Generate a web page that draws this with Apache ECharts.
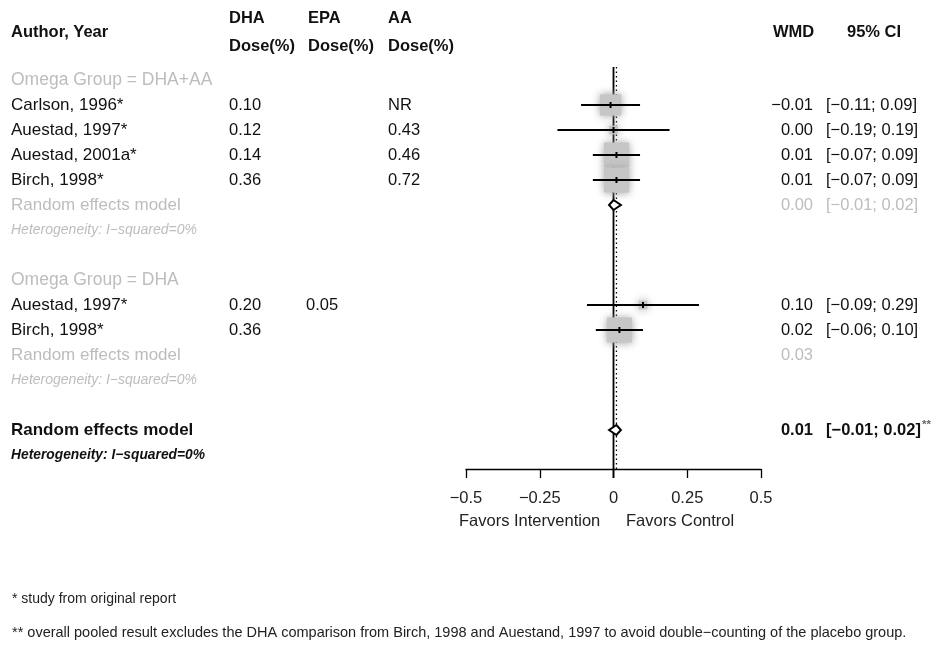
<!DOCTYPE html>
<html>
<head>
<meta charset="utf-8">
<script src="https://cdn.jsdelivr.net/npm/echarts@6/dist/echarts.min.js"></script>
<style>
  html, body { margin: 0; padding: 0; background: #fff; }
  #chart { width: 940px; height: 650px; }
</style>
</head>
<body>
<div id="chart"></div>
<script>
// ---- Study data (weighted mean difference, WMD) ----
const subgroupNames = ['DHA+AA', 'DHA'];
const studyGroup   = [0, 0, 0, 0, 1, 1];
const studyNames   = ['Carlson, 1996*', 'Auestad, 1997*', 'Auestad, 2001a*', 'Birch, 1998*', 'Auestad, 1997*', 'Birch, 1998*'];
const dhaDose      = ['0.10', '0.12', '0.14', '0.36', '0.20', '0.36'];
const epaDose      = ['', '', '', '', '0.05', ''];
const aaDose       = ['NR', '0.43', '0.46', '0.72', '', ''];
const wmd          = [-0.01, 0.00, 0.01, 0.01, 0.10, 0.02];
const ciLower      = [-0.11, -0.19, -0.07, -0.07, -0.09, -0.06];
const ciUpper      = [0.09, 0.19, 0.09, 0.09, 0.29, 0.10];
const studyWeight  = [18, 3, 25, 25, 3, 25];

// subgroup random effects estimates
const subgroupWmd   = [0.00, 0.03];
const subgroupLower = [-0.01, null];
const subgroupUpper = [0.02, null];
const subgroupHet   = ['Heterogeneity: I\u2212squared=0%', 'Heterogeneity: I\u2212squared=0%'];

// overall pooled estimate
const pooledWmd   = [0.01];
const pooledLower = [-0.01];
const pooledUpper = [0.02];
const pooledHet   = ['Heterogeneity: I\u2212squared=0%'];

const xTicks = [-0.5, -0.25, 0, 0.25, 0.5];

// ---- Row layout ----
const FONT = '"Liberation Sans", Arial, Helvetica, sans-serif';
const GREY = '#bdbdbd';
const BODY = '16.5px ' + FONT;
const NAME = '17px ' + FONT;
const fmt = v => (v < 0 ? '\u2212' : '') + Math.abs(v).toFixed(2);
const fmtCI = (lo, hi) => '[' + fmt(lo) + '; ' + fmt(hi) + ']';

// text width helper for placing the superscript mark
const measureCtx = document.createElement('canvas').getContext('2d');
const textWidth = (text, font) => { measureCtx.font = font; return measureCtx.measureText(text).width; };

const textRows = [];      // {row, cells:[{x, text, align, font, fill}]}
const studyRows = [];     // [wmd, row, lower, upper, weight]
const diamondRows = [];   // [wmd, row, lower, upper]
let row = 0;
subgroupNames.forEach((g, gi) => {
  textRows.push({ row: row, cells: [{ x: 11, text: 'Omega Group = ' + g, font: '17.5px ' + FONT, fill: GREY }] });
  row++;
  studyNames.forEach((name, i) => {
    if (studyGroup[i] !== gi) return;
    textRows.push({ row: row, cells: [
      { x: 11, text: name, font: NAME },
      { x: 229, text: dhaDose[i] },
      { x: 306, text: epaDose[i] },
      { x: 388, text: aaDose[i] },
      { x: 813, text: fmt(wmd[i]), align: 'right' },
      { x: 826, text: fmtCI(ciLower[i], ciUpper[i]) }
    ]});
    studyRows.push([wmd[i], row, ciLower[i], ciUpper[i], studyWeight[i]]);
    row++;
  });
  const reCells = [
    { x: 11, text: 'Random effects model', font: NAME, fill: GREY },
    { x: 813, text: fmt(subgroupWmd[gi]), align: 'right', fill: GREY }
  ];
  if (subgroupLower[gi] !== null) {
    reCells.push({ x: 826, text: fmtCI(subgroupLower[gi], subgroupUpper[gi]), fill: GREY });
    diamondRows.push([subgroupWmd[gi], row, subgroupLower[gi], subgroupUpper[gi]]);
  }
  textRows.push({ row: row, cells: reCells });
  row++;
  textRows.push({ row: row, cells: [{ x: 11, text: subgroupHet[gi], font: 'italic 14px ' + FONT, fill: GREY }] });
  row += 2;
});
textRows.push({ row: row, cells: [
  { x: 11, text: 'Random effects model', font: 'bold 17px ' + FONT },
  { x: 813, text: fmt(pooledWmd[0]), align: 'right', font: 'bold 16.5px ' + FONT },
  { x: 826, text: fmtCI(pooledLower[0], pooledUpper[0]), font: 'bold 16.5px ' + FONT, sup: '**' }
]});
diamondRows.push([pooledWmd[0], row, pooledLower[0], pooledUpper[0]]);
row++;
textRows.push({ row: row, cells: [{ x: 11, text: pooledHet[0], font: 'bold italic 13.8px ' + FONT }] });
const lastRow = row;

const Y_MIN = -0.52, Y_MAX = lastRow + 0.56;

const chart = echarts.init(document.getElementById('chart'), null, { renderer: 'canvas' });

const option = {
  backgroundColor: '#ffffff',
  animation: false,
  grid: { left: 466, width: 295, top: 67, height: 402 },
  xAxis: {
    type: 'value', min: xTicks[0], max: xTicks[xTicks.length - 1], interval: xTicks[1] - xTicks[0],
    axisLine: { show: true, onZero: false, lineStyle: { color: '#000', width: 1.3 } },
    axisTick: { show: true, length: 9, lineStyle: { color: '#000', width: 1.3 } },
    axisLabel: {
      margin: 21, color: '#222', fontSize: 16.5, fontFamily: FONT,
      formatter: v => (v < 0 ? '\u2212' : '') + Math.abs(v)
    },
    splitLine: { show: false }
  },
  yAxis: {
    type: 'value', inverse: true, min: Y_MIN, max: Y_MAX,
    show: false, splitLine: { show: false }
  },
  series: [
    // line of no effect
    {
      type: 'line', data: [[0, Y_MIN], [0, Y_MAX + 0.36]], symbol: 'none', clip: false,
      lineStyle: { color: '#000', width: 1.8 }, z: 3
    },
    // pooled estimate reference line
    {
      type: 'line', data: [[pooledWmd[0], Y_MIN], [pooledWmd[0], Y_MAX]], symbol: 'none',
      lineStyle: { color: '#000', width: 1.3, type: [1.5, 3] }, z: 3
    },
    // study boxes and confidence intervals
    {
      type: 'custom', data: studyRows, z: 4,
      renderItem: (params, api) => {
        const est = api.coord([api.value(0), api.value(1)]);
        const lo = api.coord([api.value(2), api.value(1)]);
        const hi = api.coord([api.value(3), api.value(1)]);
        const s = Math.sqrt(api.value(4)) * 5;
        return {
          type: 'group',
          children: [
            { type: 'rect', shape: { x: est[0] - s / 2, y: est[1] - s / 2, width: s, height: s },
              style: { fill: '#c6c6c6', shadowBlur: 8, shadowColor: 'rgba(160,160,160,1)' } },
            { type: 'line', shape: { x1: lo[0], y1: lo[1], x2: hi[0], y2: hi[1] },
              style: { stroke: '#000', lineWidth: 2 } },
            { type: 'line', shape: { x1: est[0], y1: est[1] - 3, x2: est[0], y2: est[1] + 3 },
              style: { stroke: '#000', lineWidth: 2 } }
          ]
        };
      }
    },
    // random effects diamonds
    {
      type: 'custom', data: diamondRows, z: 5,
      renderItem: (params, api) => {
        const est = api.coord([api.value(0), api.value(1)]);
        const lo = api.coord([api.value(2), api.value(1)]);
        const hi = api.coord([api.value(3), api.value(1)]);
        const h = 5;
        return {
          type: 'polygon',
          shape: { points: [[lo[0] - 1.5, est[1]], [est[0], est[1] - h], [hi[0] + 1.5, est[1]], [est[0], est[1] + h]] },
          style: { fill: '#fff', stroke: '#000', lineWidth: 2 }
        };
      }
    },
    // table text, one row per item
    {
      type: 'custom', data: textRows.map(r => [0, r.row]), z: 6, silent: true,
      renderItem: (params, api) => {
        const y = api.coord([0, api.value(1)])[1];
        const r = textRows[params.dataIndex];
        const children = [];
        r.cells.forEach(c => {
          if (!c.text) return;
          const font = c.font || BODY;
          children.push({
            type: 'text',
            style: { x: c.x, y: y, text: c.text, font: font, fill: c.fill || '#111',
                     align: c.align || 'left', verticalAlign: 'middle' }
          });
          if (c.sup) {
            children.push({
              type: 'text',
              style: { x: c.x + textWidth(c.text, font) + 1, y: y - 5, text: c.sup,
                       font: 'bold 11.5px ' + FONT, fill: '#666', align: 'left', verticalAlign: 'middle' }
            });
          }
        });
        return { type: 'group', children: children };
      }
    }
  ],
  graphic: [
    { type: 'text', left: 11, top: 24, style: { text: 'Author, Year', font: 'bold 16.5px ' + FONT, fill: '#111' } },
    { type: 'text', left: 229, top: 10, style: { text: 'DHA', font: 'bold 16.5px ' + FONT, fill: '#111' } },
    { type: 'text', left: 229, top: 38, style: { text: 'Dose(%)', font: 'bold 16.5px ' + FONT, fill: '#111' } },
    { type: 'text', left: 308, top: 10, style: { text: 'EPA', font: 'bold 16.5px ' + FONT, fill: '#111' } },
    { type: 'text', left: 308, top: 38, style: { text: 'Dose(%)', font: 'bold 16.5px ' + FONT, fill: '#111' } },
    { type: 'text', left: 388, top: 10, style: { text: 'AA', font: 'bold 16.5px ' + FONT, fill: '#111' } },
    { type: 'text', left: 388, top: 38, style: { text: 'Dose(%)', font: 'bold 16.5px ' + FONT, fill: '#111' } },
    { type: 'text', left: 773, top: 24, style: { text: 'WMD', font: 'bold 16.5px ' + FONT, fill: '#111' } },
    { type: 'text', left: 847, top: 24, style: { text: '95% CI', font: 'bold 16.5px ' + FONT, fill: '#111' } },
    { type: 'text', left: 459, top: 513, style: { text: 'Favors Intervention', font: '16.5px ' + FONT, fill: '#222' } },
    { type: 'text', left: 626, top: 513, style: { text: 'Favors Control', font: '16.5px ' + FONT, fill: '#222' } },
    { type: 'text', left: 12, top: 592, style: { text: '* study from original report', font: '14px ' + FONT, fill: '#222' } },
    { type: 'text', left: 12, top: 625, style: { text: '** overall pooled result excludes the DHA comparison from Birch, 1998 and Auestand, 1997 to avoid double\u2212counting of the placebo group.', font: '14.5px ' + FONT, fill: '#222' } }
  ]
};
chart.setOption(option);
</script>
</body>
</html>
